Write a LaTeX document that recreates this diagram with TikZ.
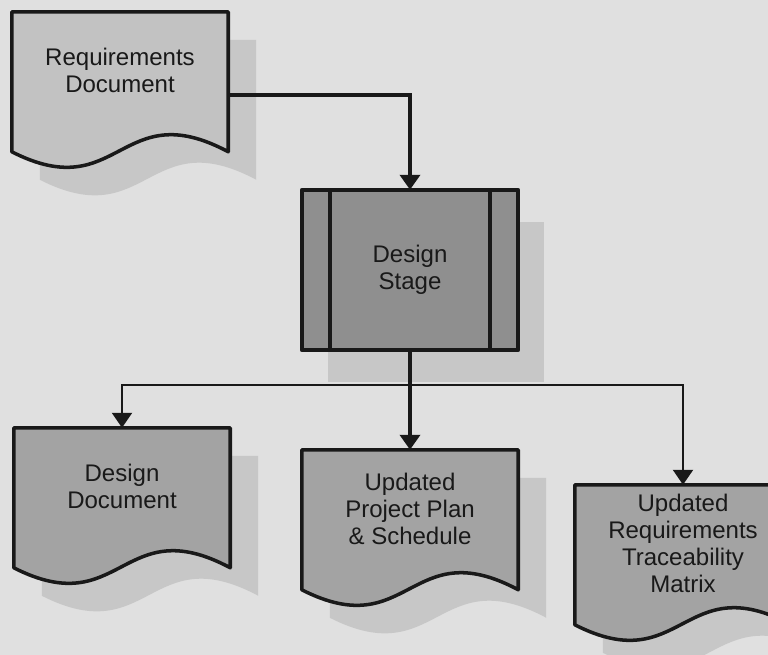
\documentclass[tikz,border=0pt]{standalone}
\usepackage{fontspec}
\setmainfont{Liberation Sans}
\usetikzlibrary{calc, arrows.meta, backgrounds}

\definecolor{paper}{gray}{0.88}
\definecolor{shadowgray}{gray}{0.78}
\definecolor{reqgray}{gray}{0.76}
\definecolor{stagegray}{gray}{0.56}
\definecolor{outgray}{gray}{0.64}

% document outline: #1 = node, #2 = offset (px)
\newcommand{\docshape}[2]{($(#1.north west)+(#2)$) -- ($(#1.north east)+(#2)$)
  -- ($(#1.north east)+(#2)+(0,140)$)
  .. controls ($(#1.north west)+(#2)+(108,82)$) and ($(#1.north west)+(#2)+(108,195)$)
  .. ($(#1.north west)+(#2)+(0,140)$) -- cycle}

\tikzset{
  doc/.style={minimum width=6.48cm, minimum height=3.51cm, inner sep=0pt,
    align=center, text=black!90, font=\fontsize{20.5}{23}\selectfont},
  stage/.style={doc, minimum height=4.8cm},
  outline/.style={draw=black!90, line width=3pt, line join=round},
  flow/.style={draw=black!90, line width=3.5pt, -{Triangle[width=0.6cm, length=0.45cm]}},
  branch/.style={flow, line width=2pt}
}

\begin{document}
\begin{tikzpicture}[x=0.03cm, y=-0.03cm]
  \useasboundingbox (0,0) rectangle (768,655);
  % boxes
  \node[doc] (req) at (120,70.5) {Requirements\\Document};
  \node[stage] (ds) at (410,270) {Design\\Stage};
  \node[doc] (dd) at (122,486.5) {Design\\Document};
  \node[doc] (pp) at (410,508.5) {Updated\\Project Plan\\\& Schedule};
  \node[doc] (rtm) at (683,543.5) {Updated\\Requirements\\Traceability\\Matrix};

  \begin{pgfonlayer}{background}
    \fill[paper] (0,0) rectangle (768,655);
    % shadows
    \fill[shadowgray] \docshape{req}{28,28};
    \fill[shadowgray] ($(ds.north west)+(26,32)$) rectangle ($(ds.south east)+(26,32)$);
    \fill[shadowgray] \docshape{dd}{28,28};
    \fill[shadowgray] \docshape{pp}{28,28};
    \fill[shadowgray] \docshape{rtm}{28,28};
    % shapes
    \filldraw[outline, fill=reqgray] \docshape{req}{0,0};
    \filldraw[outline, fill=stagegray] (ds.north west) rectangle (ds.south east);
    \draw[outline] ($(ds.north west)+(28,0)$) -- ($(ds.south west)+(28,0)$);
    \draw[outline] ($(ds.north east)+(-28,0)$) -- ($(ds.south east)+(-28,0)$);
    \filldraw[outline, fill=outgray] \docshape{dd}{0,0};
    \filldraw[outline, fill=outgray] \docshape{pp}{0,0};
    \filldraw[outline, fill=outgray] \docshape{rtm}{0,0};
  \end{pgfonlayer}

  % connectors
  \draw[flow] ([yshift=-0.735cm]req.east) -| (ds.north);
  \draw[flow] (ds.south) -- (pp.north);
  \coordinate (split) at (410,385);
  \draw[branch] (split) -| (dd.north);
  \draw[branch] (split) -| (rtm.north);
\end{tikzpicture}
\end{document}
